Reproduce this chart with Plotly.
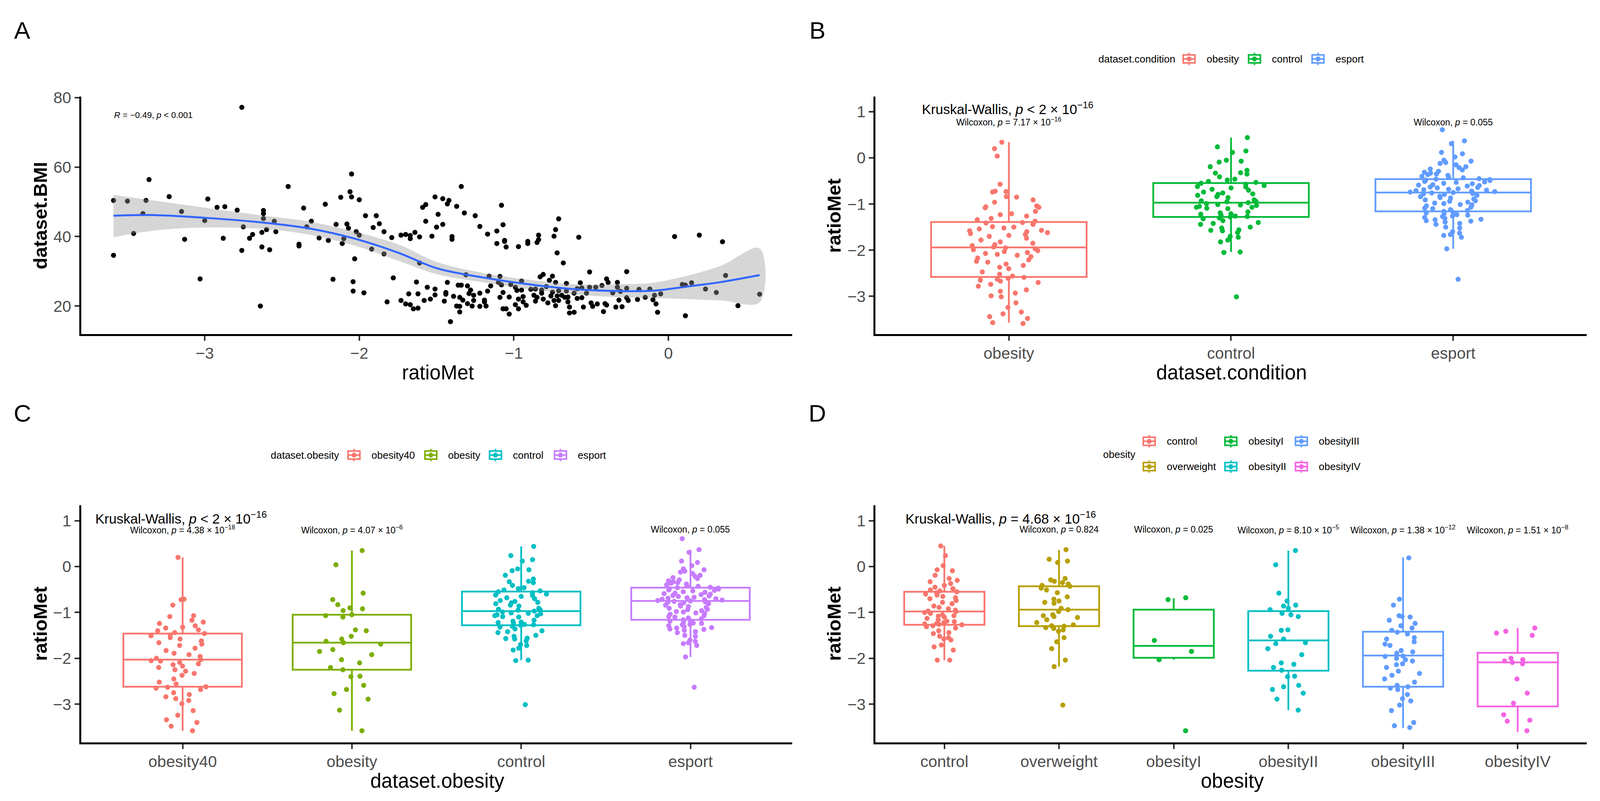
import plotly.graph_objects as go

W, H = 4315, 2050
FONT = "Liberation Sans"

# ---------------- panel A: ratioMet vs dataset.BMI ----------------
ratio_a = [
    -2.76, -3.36, -3.59, -3.50, -3.38, -3.23, -2.98, -3.40, -3.15, -2.92,
    -2.87, -2.79, -2.62, -2.62, -2.62, -2.55, -3.00, -2.75, -2.60, -2.54,
    -2.63, -2.69, -2.71, -3.46, -3.13, -2.88, -2.46, -2.36, -2.31, -2.34,
    -2.22, -2.12, -2.05, -2.06, -2.05, -2.00, -1.96, -1.89, -2.15, -2.08,
    -2.07, -1.91, -1.87, -2.02, -2.00, -1.84, -1.79, -2.26, -2.20, -2.10,
    -2.11, -2.39, -2.39, -1.92, -1.84, -1.61, -2.76, -2.63, -2.58, -3.59,
    -1.73, -1.70, -1.67, -1.67, -1.64, -1.61, -1.53, -1.59, -1.57, -1.51,
    -1.49, -1.57, -1.50, -2.03, -3.03, -2.17, -2.04, -2.04, -1.97, -1.78,
    -1.82, -1.73, -1.70, -1.67, -1.68, -1.63, -1.62, -1.65, -1.62, -1.58,
    -1.56, -1.54, -1.51, -1.51, -2.64,
    -1.34, -1.46, -1.42, -1.43, -1.37, -1.08, -1.32, -1.25, -1.46, -1.22,
    -1.07, -1.11, -1.17, -1.40, -1.40, -1.06, -1.06, -1.11, -1.05, -0.97,
    -0.91, -0.91, -0.85, -0.84, -0.84, -0.74, -0.73, -0.71, -0.72, -0.68,
    -0.58, -0.51, -0.27, 0.04, 0.20, 0.35, 0.37, 0.59, 0.45, 0.11,
    0.31, 0.24, 0.15, 0.09, 0.11, -0.07, -0.08, -0.10, -0.05, -0.09,
    -0.12, -0.15, -0.19, -0.20, -0.26, -0.27, -0.27, -0.30, -0.34, -0.32,
    -0.31, -0.33, -0.33, -0.36, -0.39, -0.40, -0.43, -0.40, -0.41, -0.42,
    -0.46, -0.47, -0.49, -0.51, -0.50, -0.53, -0.55, -0.56, -0.56, -0.57,
    -0.59, -0.59, -0.61, -0.61, -0.64, -0.64, -0.65, -0.65, -0.66, -0.66,
    -0.67, -0.69, -0.71, -0.71, -0.72, -0.73, -0.73, -0.74, -0.75, -0.75,
    -0.76, -0.77, -0.78, -0.79, -0.81, -0.81, -0.82, -0.83, -0.82, -0.85,
    -0.86, -0.87, -0.86, -0.89, -0.92, -0.94, -0.94, -0.95, -0.95, -0.97,
    -0.98, -0.97, -0.99, -0.99, -1.02, -1.03, -1.03, -1.05, -1.07, -1.07,
    -1.08, -1.09, -1.09, -1.10, -1.15, -1.16, -1.17, -1.18, -1.19, -1.19,
    -1.22, -1.22, -1.26, -1.26, -1.27, -1.28, -1.29, -1.30, -1.30, -1.31,
    -1.33, -1.34, -1.35, -1.35, -1.35, -1.36, -1.37, -1.39, -1.44, -1.44,
    -1.43, -1.45, -1.41,
]
bmi_a = [
    77.2, 56.4, 50.4, 50.2, 50.4, 51.5, 50.8, 46.6, 47.2, 48.4,
    48.6, 47.6, 47.5, 46.6, 45.2, 44.4, 44.6, 42.8, 42.0, 41.4,
    41.2, 40.6, 39.5, 40.9, 39.2, 39.5, 54.4, 48.2, 44.4, 42.8,
    49.3, 51.3, 58.0, 52.9, 51.4, 50.6, 46.0, 46.0, 43.5, 43.6,
    42.4, 42.6, 43.7, 41.4, 40.4, 41.4, 39.7, 39.6, 38.9, 39.4,
    38.0, 37.8, 37.3, 36.4, 35.0, 32.4, 36.0, 37.0, 36.2, 34.6,
    40.4, 40.6, 39.4, 40.3, 41.2, 39.9, 40.1, 48.4, 49.2, 51.4,
    46.4, 44.4, 42.7, 33.6, 27.8, 27.7, 27.0, 24.3, 23.8, 28.1,
    21.2, 21.6, 20.6, 20.4, 23.5, 26.9, 23.5, 19.2, 19.4, 21.6,
    25.4, 22.0, 24.9, 23.2, 20.0,
    54.4, 50.9, 50.4, 49.4, 48.7, 49.0, 46.8, 46.0, 43.5, 42.9,
    43.4, 41.6, 40.7, 40.0, 39.2, 38.9, 38.6, 38.0, 37.0, 37.1,
    38.6, 38.0, 38.3, 40.4, 39.1, 40.1, 42.0, 45.1, 35.3, 32.4,
    39.8, 29.8, 29.9, 40.0, 40.4, 38.5, 28.8, 23.4, 20.1, 17.2,
    23.9, 24.9, 26.7, 26.2, 26.0, 18.2, 20.6, 21.8, 23.5, 23.1,
    24.9, 22.5, 24.8, 21.9, 21.6, 22.4, 25.1, 19.8, 19.7, 21.7,
    24.2, 25.4, 26.8, 23.8, 26.8, 27.8, 25.9, 20.3, 20.7, 18.4,
    20.6, 25.4, 19.9, 25.4, 20.9, 23.7, 19.7, 25.2, 22.4, 26.7,
    25.0, 22.2, 23.7, 18.2, 18.0, 19.7, 22.6, 21.2, 26.5, 24.3,
    22.5, 23.1, 24.4, 21.6, 22.9, 26.8, 20.1, 21.6, 24.0, 28.6,
    22.9, 27.4, 20.9, 25.6, 29.1, 22.0, 23.7, 28.4, 24.6, 22.5,
    21.4, 23.1, 24.9, 24.8, 20.2, 22.7, 21.2, 27.2, 24.6, 19.2,
    24.5, 22.0, 25.4, 20.4, 26.2, 17.7, 22.6, 19.2, 19.2, 23.9,
    26.1, 22.5, 28.5, 26.8, 25.8, 28.6, 24.3, 20.0, 21.7, 21.2,
    19.9, 23.7, 23.1, 21.6, 20.0, 24.6, 23.6, 25.8, 20.7, 29.0,
    21.7, 26.0, 22.5, 19.9, 18.3, 26.0, 20.0, 22.8, 23.4, 23.9,
    26.8, 21.4, 15.5,
]
# loess fit and its confidence band
smooth_x = [-3.59, -3.35, -3.0, -2.62, -2.32, -2.03, -1.74, -1.5, -1.21, -0.91, -0.62, -0.32, -0.10, 0.12, 0.34, 0.59]
smooth_y = [46.0, 46.2, 45.4, 44.0, 42.3, 39.4, 35.2, 30.9, 28.3, 26.3, 24.9, 24.3, 24.4, 25.6, 26.9, 28.9]
band_hi = [52.0, 50.5, 48.3, 46.0, 44.3, 41.4, 37.6, 32.7, 29.6, 27.6, 26.3, 26.3, 26.7, 28.7, 31.6, 36.6]
band_lo = [39.8, 41.6, 42.6, 42.2, 40.5, 37.4, 32.9, 29.2, 26.9, 24.9, 23.4, 22.5, 22.3, 22.0, 21.6, 21.1]

# ---------------- ratioMet per group ----------------
obesity_b = [0.34, 0.20, 0.04, -0.57, -0.72, -0.73, -0.74, -0.84, -0.85, -0.91, -0.96, -1.04, -1.06, -1.07,
             -1.08, -1.16, -1.21, -1.23, -1.26, -1.31, -1.34, -1.37, -1.40, -1.41, -1.44, -1.49, -1.50, -1.52,
             -1.54, -1.57, -1.58, -1.60, -1.62, -1.64, -1.66, -1.68, -1.70, -1.74, -1.78, -1.82, -1.85, -1.88,
             -1.90, -1.93, -1.95, -1.97, -1.99, -2.01, -2.03, -2.05, -2.07, -2.09, -2.11, -2.14, -2.17, -2.21,
             -2.24, -2.26, -2.30, -2.33, -2.37, -2.40, -2.47, -2.52, -2.56, -2.59, -2.61, -2.63, -2.65, -2.67,
             -2.70, -2.74, -2.78, -2.86, -2.89, -2.93, -2.99, -3.01, -3.14, -3.24, -3.34, -3.38, -3.44, -3.48,
             -3.57, -3.59]
control_b = [0.44, 0.24, 0.15, 0.12, -0.05, -0.07, -0.09, -0.19, -0.27, -0.32, -0.33, -0.35, -0.41, -0.46,
             -0.48, -0.51, -0.53, -0.55, -0.57, -0.60, -0.62, -0.63, -0.65, -0.68, -0.70, -0.74, -0.76, -0.78,
             -0.79, -0.81, -0.84, -0.86, -0.91, -0.93, -0.94, -0.95, -0.97, -0.99, -1.01, -1.02, -1.03, -1.05,
             -1.07, -1.07, -1.09, -1.10, -1.17, -1.19, -1.21, -1.22, -1.24, -1.26, -1.27, -1.28, -1.30, -1.32,
             -1.36, -1.40, -1.42, -1.44, -1.50, -1.52, -1.56, -1.57, -1.58, -1.62, -1.70, -1.72, -1.78, -1.82,
             -2.04, -2.05, -3.01]
esport_b = [0.61, 0.37, 0.31, 0.12, 0.09, 0.02, -0.05, -0.07, -0.10, -0.12, -0.15, -0.19, -0.21, -0.24,
            -0.26, -0.29, -0.31, -0.33, -0.35, -0.36, -0.38, -0.40, -0.42, -0.43, -0.45, -0.46, -0.47, -0.48,
            -0.49, -0.51, -0.52, -0.53, -0.55, -0.56, -0.58, -0.59, -0.60, -0.61, -0.63, -0.64, -0.65, -0.67,
            -0.68, -0.69, -0.70, -0.71, -0.72, -0.73, -0.74, -0.74, -0.75, -0.76, -0.77, -0.78, -0.79, -0.81,
            -0.83, -0.84, -0.86, -0.87, -0.89, -0.91, -0.93, -0.94, -0.96, -0.98, -0.99, -1.01, -1.02, -1.04,
            -1.07, -1.09, -1.10, -1.12, -1.14, -1.16, -1.18, -1.19, -1.21, -1.23, -1.24, -1.26, -1.27, -1.29,
            -1.31, -1.33, -1.34, -1.36, -1.37, -1.39, -1.42, -1.44, -1.50, -1.52, -1.60, -1.63, -1.66, -1.68,
            -1.72, -1.97, -2.63]
obesity40_c = [0.20, -0.71, -0.72, -0.84, -1.07, -1.09, -1.17, -1.21, -1.24, -1.29, -1.32, -1.34, -1.38,
               -1.40, -1.44, -1.46, -1.49, -1.51, -1.55, -1.58, -1.62, -1.66, -1.69, -1.72, -1.78, -1.83,
               -1.89, -1.92, -1.96, -2.00, -2.03, -2.05, -2.06, -2.09, -2.12, -2.14, -2.17, -2.20, -2.25,
               -2.28, -2.33, -2.37, -2.45, -2.52, -2.56, -2.62, -2.63, -2.65, -2.68, -2.75, -2.79, -2.84,
               -2.88, -2.92, -2.99, -3.14, -3.24, -3.34, -3.40, -3.48, -3.58]
obesity_c = [0.35, 0.04, -0.58, -0.72, -0.83, -0.90, -0.92, -0.96, -1.05, -1.07, -1.10, -1.38, -1.40, -1.52,
             -1.58, -1.63, -1.66, -1.69, -1.81, -1.85, -1.92, -2.03, -2.10, -2.20, -2.25, -2.39, -2.40, -2.59,
             -2.68, -2.77, -2.89, -3.13, -3.58]
control_d = [0.45, 0.24, 0.02, -0.07, -0.09, -0.19, -0.26, -0.30, -0.33, -0.37, -0.41, -0.45, -0.48, -0.51,
             -0.53, -0.55, -0.57, -0.60, -0.62, -0.65, -0.68, -0.70, -0.74, -0.78, -0.81, -0.86, -0.89, -0.92,
             -0.95, -0.97, -0.98, -1.00, -1.02, -1.05, -1.07, -1.08, -1.10, -1.13, -1.16, -1.19, -1.20, -1.22,
             -1.24, -1.25, -1.26, -1.27, -1.29, -1.31, -1.34, -1.40, -1.44, -1.46, -1.52, -1.55, -1.58, -1.60,
             -1.71, -1.75, -1.82, -2.04, -2.04]
overweight_d = [0.37, 0.16, 0.12, 0.09, -0.26, -0.29, -0.32, -0.35, -0.38, -0.41, -0.43, -0.47, -0.51, -0.57,
                -0.66, -0.71, -0.75, -0.78, -0.80, -0.91, -0.94, -0.98, -1.05, -1.07, -1.09, -1.11, -1.16,
                -1.22, -1.27, -1.29, -1.30, -1.33, -1.35, -1.38, -1.41, -1.55, -1.64, -1.79, -2.04, -2.18, -3.02]
obesityI_d = [-0.68, -0.72, -1.61, -1.85, -2.03, -3.58]
obesityII_d = [0.35, 0.04, -0.58, -0.75, -0.84, -0.86, -0.91, -0.94, -1.02, -1.05, -1.09, -1.38, -1.39, -1.52,
               -1.58, -1.66, -1.68, -1.79, -1.92, -2.10, -2.13, -2.20, -2.26, -2.39, -2.40, -2.59, -2.62, -2.68,
               -2.76, -2.89, -3.13]
obesityIII_d = [0.19, -0.71, -0.84, -1.07, -1.09, -1.10, -1.17, -1.24, -1.29, -1.34, -1.39, -1.43, -1.47, -1.55,
                -1.58, -1.64, -1.69, -1.72, -1.83, -1.86, -1.89, -1.95, -1.96, -2.00, -2.03, -2.06, -2.12, -2.14,
                -2.20, -2.28, -2.33, -2.37, -2.45, -2.52, -2.59, -2.62, -2.65, -2.68, -2.79, -2.88, -2.93, -3.02,
                -3.14, -3.40, -3.47, -3.51]
obesityIV_d = [-1.34, -1.41, -1.45, -1.50, -2.00, -2.03, -2.06, -2.09, -2.12, -2.45, -2.76, -2.98, -3.23, -3.35,
               -3.37, -3.58]

# box statistics as drawn in the figure
cats_b = ["obesity", "control", "esport"]
q1_b, med_b, q3_b = [-2.58, -1.28, -1.16], [-1.94, -0.97, -0.75], [-1.39, -0.545, -0.46]
lo_b, hi_b = [-3.57, -2.04, -1.97], [0.34, 0.44, 0.37]

cats_c = ["obesity40", "obesity", "control", "esport"]
q1_c, med_c, q3_c = [-2.62, -2.25, -1.28, -1.16], [-2.03, -1.66, -0.97, -0.75], [-1.46, -1.05, -0.545, -0.46]
lo_c, hi_c = [-3.58, -3.58, -2.04, -1.97], [0.20, 0.35, 0.44, 0.37]

cats_d = ["control", "overweight", "obesityI", "obesityII", "obesityIII", "obesityIV"]
q1_d = [-1.27, -1.30, -1.99, -2.27, -2.62, -3.05]
med_d = [-0.98, -0.94, -1.73, -1.61, -1.94, -2.09]
q3_d = [-0.55, -0.43, -0.94, -0.97, -1.42, -1.88]
lo_d = [-2.04, -2.18, -2.03, -3.13, -3.52, -3.61]
hi_d = [0.45, 0.36, -0.69, 0.35, 0.20, -1.34]

pal3 = ["#F8766D", "#00BA38", "#619CFF"]
pal4 = ["#F8766D", "#7CAE00", "#00BFC4", "#C77CFF"]
pal6 = ["#F8766D", "#B79F00", "#00BA38", "#00BFC4", "#619CFF", "#F564E3"]


def px(x):
    return x / W


def py(y):
    return 1 - y / H


fig = go.Figure()

# panel A
fig.add_trace(go.Scatter(x=ratio_a, y=bmi_a, mode="markers", marker=dict(color="black", size=13),
                         xaxis="x", yaxis="y", showlegend=False))
fig.add_trace(go.Scatter(x=smooth_x + smooth_x[::-1], y=band_hi + band_lo[::-1], fill="toself",
                         fillcolor="rgba(153,153,153,0.4)", line=dict(width=0, shape="spline"),
                         mode="lines", xaxis="x", yaxis="y", showlegend=False))
fig.add_trace(go.Scatter(x=smooth_x, y=smooth_y, mode="lines", line=dict(color="#3366FF", width=5, shape="spline"),
                         xaxis="x", yaxis="y", showlegend=False))


def add_boxes(cats, groups, q1, med, q3, lo, hi, colors, ax):
    for i, cat in enumerate(cats):
        fig.add_trace(go.Box(x=[cat], q1=[q1[i]], median=[med[i]], q3=[q3[i]], lowerfence=[lo[i]],
                             upperfence=[hi[i]], width=0.7, whiskerwidth=0, boxpoints=False,
                             line=dict(color=colors[i], width=4.5), fillcolor="white",
                             xaxis="x" + ax, yaxis="y" + ax, showlegend=False))
    for i, cat in enumerate(cats):
        vals = groups[i]
        fig.add_trace(go.Box(x=[cat] * len(vals), y=vals, boxpoints="all", jitter=0.57, pointpos=0,
                             width=0.7, whiskerwidth=0, line=dict(width=0, color="rgba(0,0,0,0)"),
                             fillcolor="rgba(0,0,0,0)", marker=dict(color=colors[i], size=13),
                             xaxis="x" + ax, yaxis="y" + ax, showlegend=False))


add_boxes(cats_b, [obesity_b, control_b, esport_b], q1_b, med_b, q3_b, lo_b, hi_b, pal3, "2")
add_boxes(cats_c, [obesity40_c, obesity_c, control_b, esport_b], q1_c, med_c, q3_c, lo_c, hi_c, pal4, "3")
add_boxes(cats_d, [control_d, overweight_d, obesityI_d, obesityII_d, obesityIII_d, obesityIV_d],
          q1_d, med_d, q3_d, lo_d, hi_d, pal6, "4")


def axis(**kw):
    d = dict(showline=True, linecolor="black", linewidth=5, ticks="outside", ticklen=12, tickwidth=4,
             tickcolor="#333333", tickfont=dict(size=41, color="#4D4D4D", family=FONT),
             showgrid=False, zeroline=False, fixedrange=True)
    d.update(kw)
    return d


top_row = [py(842), py(223)]
bot_row = [py(1905), py(1288)]
left_col = [px(211), px(2136)]
right_col = [px(2362), px(4287)]
box_ticks = [-3, -2, -1, 0, 1]

fig.update_layout(
    xaxis=axis(domain=left_col, anchor="y", range=[-3.8, 0.8], tickvals=[-3, -2, -1, 0], ticklabelstandoff=-3),
    yaxis=axis(domain=top_row, anchor="x", range=[11.9, 80.3], tickvals=[20, 40, 60, 80]),
    xaxis2=axis(domain=right_col, anchor="y2", type="category", categoryorder="array",
                categoryarray=cats_b, range=[-0.6, 2.6], ticklabelstandoff=-3),
    yaxis2=axis(domain=top_row, anchor="x2", range=[-3.82, 1.33], tickvals=box_ticks),
    xaxis3=axis(domain=left_col, anchor="y3", type="category", categoryorder="array",
                categoryarray=cats_c, range=[-0.6, 3.6], ticklabelstandoff=-3),
    yaxis3=axis(domain=bot_row, anchor="x3", range=[-3.83, 1.335], tickvals=box_ticks),
    xaxis4=axis(domain=right_col, anchor="y4", type="category", categoryorder="array",
                categoryarray=cats_d, range=[-0.6, 5.6], ticklabelstandoff=-3),
    yaxis4=axis(domain=bot_row, anchor="x4", range=[-3.83, 1.335], tickvals=box_ticks),
    boxmode="overlay",
    margin=dict(l=0, r=0, t=0, b=0),
    paper_bgcolor="white", plot_bgcolor="white",
    font=dict(family=FONT, color="black"),
    showlegend=False,
)

ann = []


def txt(x, y, text, size, xanchor="center", angle=0, xref="paper", color="black"):
    ann.append(dict(x=x, y=py(y), xref=xref, yref="paper", text=text, showarrow=False,
                    xanchor=xanchor, yanchor="middle", textangle=angle,
                    font=dict(size=size, family=FONT, color=color)))


# panel tags
for lab, x, y in [("A", 52, 50), ("B", 2205, 50), ("C", 52, 1048), ("D", 2205, 1048)]:
    txt(px(x), y, lab, 62)

# axis titles
txt(px(1177), 942, "ratioMet", 51)
txt(px(100), 533, "<b>dataset.BMI</b>", 49, angle=-90)
txt(px(3326), 942, "dataset.condition", 51)
txt(px(2249), 533, "<b>ratioMet</b>", 49, angle=-90)
txt(px(1176), 2006, "dataset.obesity", 51)
txt(px(100), 1596, "<b>ratioMet</b>", 49, angle=-90)
txt(px(3328), 2006, "obesity", 51)
txt(px(2249), 1596, "<b>ratioMet</b>", 49, angle=-90)

# statistics labels
txt(px(298), 271, "<i>R</i> = −0.49, <i>p</i> &lt; 0.001", 22, xanchor="left")
txt(px(2485), 253, "Kruskal-Wallis, <i>p</i> &lt; 2 × 10<sup>−16</sup>", 35, xanchor="left")
txt(0, 288, "Wilcoxon, <i>p</i> = 7.17 × 10<sup>−16</sup>", 23, xref="x2")
txt(2, 290, "Wilcoxon, <i>p</i> = 0.055", 23, xref="x2")
txt(px(248), 1320, "Kruskal-Wallis, <i>p</i> &lt; 2 × 10<sup>−16</sup>", 35, xanchor="left")
txt(0, 1351, "Wilcoxon, <i>p</i> = 4.38 × 10<sup>−18</sup>", 23, xref="x3")
txt(1, 1351, "Wilcoxon, <i>p</i> = 4.07 × 10<sup>−6</sup>", 23, xref="x3")
txt(3, 1351, "Wilcoxon, <i>p</i> = 0.055", 23, xref="x3")
txt(px(2441), 1320, "Kruskal-Wallis, <i>p</i> = 4.68 × 10<sup>−16</sup>", 35, xanchor="left")
wil_d = ["0.824", "0.025", "8.10 × 10<sup>−5</sup>", "1.38 × 10<sup>−12</sup>", "1.51 × 10<sup>−8</sup>"]
for i, p in enumerate(wil_d):
    txt(i + 1, 1351, "Wilcoxon, <i>p</i> = " + p, 23, xref="x4")

# legends drawn by hand (ggplot style key: box, whiskers, median, dot)
shapes = []


def key(cx, cy, color):
    line = dict(color=color, width=4)
    shapes.append(dict(type="rect", xref="paper", yref="paper", x0=px(cx - 16), x1=px(cx + 16),
                       y0=py(cy + 10.5), y1=py(cy - 10.5), line=line))
    shapes.append(dict(type="line", xref="paper", yref="paper", x0=px(cx), x1=px(cx),
                       y0=py(cy - 16), y1=py(cy - 10.5), line=line))
    shapes.append(dict(type="line", xref="paper", yref="paper", x0=px(cx), x1=px(cx),
                       y0=py(cy + 10.5), y1=py(cy + 16), line=line))
    shapes.append(dict(type="line", xref="paper", yref="paper", x0=px(cx - 16), x1=px(cx + 16),
                       y0=py(cy), y1=py(cy), line=line))
    shapes.append(dict(type="circle", xref="paper", yref="paper", x0=px(cx - 6.5), x1=px(cx + 6.5),
                       y0=py(cy + 6.5), y1=py(cy - 6.5), fillcolor=color, line=dict(width=0)))


txt(px(2963), 125, "dataset.condition", 26, xanchor="left")
for name, col, kx in zip(cats_b, pal3, [3211, 3388, 3560]):
    key(kx, 125, col)
    txt(px(kx + 45), 125, name, 26, xanchor="left")

txt(px(722), 1157, "dataset.obesity", 26, xanchor="left")
for name, col, kx in zip(cats_c, pal4, [950, 1158, 1333, 1509]):
    key(kx, 1157, col)
    txt(px(kx + 45), 1157, name, 26, xanchor="left")

txt(px(2976), 1155, "obesity", 26, xanchor="left")
d_pos = [(3103, 1121), (3103, 1187), (3324, 1121), (3324, 1187), (3515, 1121), (3515, 1187)]
for name, col, (kx, ky) in zip(cats_d, pal6, d_pos):
    key(kx, ky, col)
    txt(px(kx + 45), ky, name, 26, xanchor="left")

fig.update_layout(annotations=ann, shapes=shapes)

# let the figure fill the browser window (minus the default 8px body margin)
fig.write_html("out.html", default_width="calc(100vw - 16px)", default_height="calc(100vh - 16px)")
